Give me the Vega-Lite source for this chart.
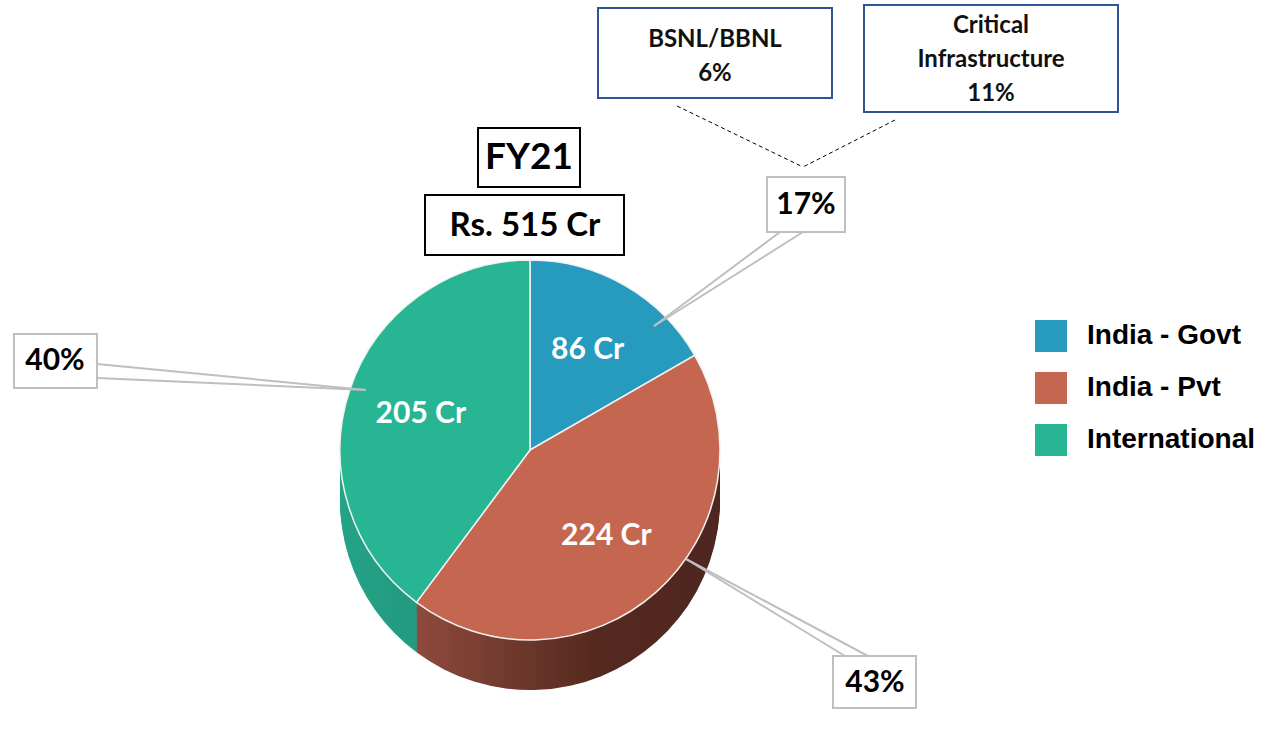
{
  "$schema": "https://vega.github.io/schema/vega-lite/v6.json",
  "width": 1060,
  "height": 564,
  "autosize": {"type": "none"},
  "padding": {"left": 0, "top": 168, "right": 211, "bottom": 0},
  "background": "white",
  "config": {"view": {"stroke": null}},
  "datasets": {
    "segments": [
      {"segment": "India - Govt", "value": 86, "crLabel": "86 Cr"},
      {"segment": "India - Pvt", "value": 224, "crLabel": "224 Cr"},
      {"segment": "International", "value": 205, "crLabel": "205 Cr"}
    ]
  },
  "layer": [
    {
      "data": {"name": "segments"},
      "encoding": {
        "theta": {"field": "value", "type": "quantitative", "stack": true},
        "fill": {
          "condition": [
            {"test": "datum.segment === 'India - Pvt'", "value": {"gradient": "linear", "x1": 0, "y1": 0, "x2": 1, "y2": 0, "stops": [{"offset": 0, "color": "#8E4A3D"}, {"offset": 0.6, "color": "#55291F"}, {"offset": 1, "color": "#4E2620"}]}},
            {"test": "datum.segment === 'International'", "value": {"gradient": "linear", "x1": 0, "y1": 0, "x2": 1, "y2": 0, "stops": [{"offset": 0, "color": "#24A387"}, {"offset": 1, "color": "#1F8D74"}]}}
          ],
          "value": "#1E7F9A"
        }
      },
      "layer": [
        {"mark": {"type": "arc", "radius": 190, "yOffset": 50}},
        {"mark": {"type": "arc", "radius": 190, "yOffset": 48}},
        {"mark": {"type": "arc", "radius": 190, "yOffset": 46}},
        {"mark": {"type": "arc", "radius": 190, "yOffset": 44}},
        {"mark": {"type": "arc", "radius": 190, "yOffset": 42}},
        {"mark": {"type": "arc", "radius": 190, "yOffset": 40}},
        {"mark": {"type": "arc", "radius": 190, "yOffset": 38}},
        {"mark": {"type": "arc", "radius": 190, "yOffset": 36}},
        {"mark": {"type": "arc", "radius": 190, "yOffset": 34}},
        {"mark": {"type": "arc", "radius": 190, "yOffset": 32}},
        {"mark": {"type": "arc", "radius": 190, "yOffset": 30}},
        {"mark": {"type": "arc", "radius": 190, "yOffset": 28}},
        {"mark": {"type": "arc", "radius": 190, "yOffset": 26}},
        {"mark": {"type": "arc", "radius": 190, "yOffset": 24}},
        {"mark": {"type": "arc", "radius": 190, "yOffset": 22}},
        {"mark": {"type": "arc", "radius": 190, "yOffset": 20}},
        {"mark": {"type": "arc", "radius": 190, "yOffset": 18}},
        {"mark": {"type": "arc", "radius": 190, "yOffset": 16}},
        {"mark": {"type": "arc", "radius": 190, "yOffset": 14}},
        {"mark": {"type": "arc", "radius": 190, "yOffset": 12}},
        {"mark": {"type": "arc", "radius": 190, "yOffset": 10}},
        {"mark": {"type": "arc", "radius": 190, "yOffset": 8}},
        {"mark": {"type": "arc", "radius": 190, "yOffset": 6}},
        {"mark": {"type": "arc", "radius": 190, "yOffset": 4}},
        {"mark": {"type": "arc", "radius": 190, "yOffset": 2}}
      ]
    },
    {
      "data": {"name": "segments"},
      "mark": {"type": "arc", "radius": 190, "stroke": "#F2F2F2", "strokeWidth": 1.5},
      "encoding": {
        "theta": {"field": "value", "type": "quantitative", "stack": true},
        "color": {
          "field": "segment",
          "type": "nominal",
          "scale": {"domain": ["India - Govt", "India - Pvt", "International"], "range": ["#269BBD", "#C56651", "#28B594"]},
          "legend": {
            "orient": "none",
            "legendX": 1035,
            "legendY": 152,
            "title": null,
            "symbolType": "square",
            "symbolSize": 1024,
            "symbolStrokeWidth": 0,
            "labelFont": "Liberation Sans",
            "labelFontSize": 28,
            "labelFontWeight": "bold",
            "labelColor": "#000000",
            "labelOffset": 20,
            "labelLimit": 400,
            "rowPadding": 20,
            "padding": 0
          }
        }
      }
    },
    {
      "data": {"name": "segments"},
      "mark": {"type": "text", "radius": 115, "font": "Lato", "fontSize": 30, "fontWeight": "bold", "fill": "white", "align": "center", "baseline": "middle"},
      "encoding": {
        "theta": {"field": "value", "type": "quantitative", "stack": true},
        "order": {"field": "segment", "type": "nominal", "sort": "ascending"},
        "text": {"field": "crLabel", "type": "nominal"}
      }
    },
    {
      "data": {"values": [
        {"xa": 780, "ya": 232, "xb": 654, "yb": 326},
        {"xa": 803, "ya": 232, "xb": 654, "yb": 326},
        {"xa": 97, "ya": 364, "xb": 366, "yb": 390},
        {"xa": 97, "ya": 378, "xb": 366, "yb": 390},
        {"xa": 845, "ya": 656, "xb": 686, "yb": 559},
        {"xa": 868, "ya": 656, "xb": 686, "yb": 559}
      ]},
      "mark": {"type": "rule", "stroke": "#BFBFBF", "strokeWidth": 2},
      "encoding": {
        "x": {"field": "xa", "type": "quantitative", "scale": {"domain": [0, 1060], "zero": false, "nice": false}, "axis": null},
        "y": {"field": "ya", "type": "quantitative", "scale": {"domain": [732, 168], "zero": false, "nice": false}, "axis": null},
        "x2": {"field": "xb"},
        "y2": {"field": "yb"}
      }
    },
    {
      "data": {"values": [
        {"xa": 677, "ya": 106, "xb": 803, "yb": 167},
        {"xa": 895, "ya": 120, "xb": 803, "yb": 167}
      ]},
      "mark": {"type": "rule", "stroke": "#000000", "strokeWidth": 1, "strokeDash": [4, 3]},
      "encoding": {
        "x": {"field": "xa", "type": "quantitative", "axis": null},
        "y": {"field": "ya", "type": "quantitative", "axis": null},
        "x2": {"field": "xb"},
        "y2": {"field": "yb"}
      }
    },
    {
      "data": {"values": [
        {"label": "17%", "left": 767, "right": 845, "top": 177, "bottom": 232},
        {"label": "40%", "left": 14, "right": 97, "top": 334, "bottom": 388},
        {"label": "43%", "left": 833, "right": 916, "top": 656, "bottom": 708}
      ]},
      "mark": {"type": "rect", "fill": "white", "stroke": "#BFBFBF", "strokeWidth": 2},
      "encoding": {
        "x": {"field": "left", "type": "quantitative", "axis": null},
        "x2": {"field": "right"},
        "y": {"field": "top", "type": "quantitative", "axis": null},
        "y2": {"field": "bottom"}
      }
    },
    {
      "data": {"values": [
        {"label": "FY21", "left": 478, "right": 580, "top": 128, "bottom": 187},
        {"label": "Rs. 515 Cr", "left": 425, "right": 624, "top": 195, "bottom": 255}
      ]},
      "mark": {"type": "rect", "fill": "white", "stroke": "#000000", "strokeWidth": 2},
      "encoding": {
        "x": {"field": "left", "type": "quantitative", "axis": null},
        "x2": {"field": "right"},
        "y": {"field": "top", "type": "quantitative", "axis": null},
        "y2": {"field": "bottom"}
      }
    },
    {
      "data": {"values": [
        {"label": "BSNL/BBNL", "left": 598, "right": 832, "top": 8, "bottom": 98},
        {"label": "Critical Infrastructure", "left": 864, "right": 1118, "top": 5, "bottom": 112}
      ]},
      "mark": {"type": "rect", "fill": "white", "stroke": "#2F5597", "strokeWidth": 2},
      "encoding": {
        "x": {"field": "left", "type": "quantitative", "axis": null},
        "x2": {"field": "right"},
        "y": {"field": "top", "type": "quantitative", "axis": null},
        "y2": {"field": "bottom"}
      }
    },
    {
      "data": {"values": [
        {"label": "17%", "cx": 806, "cy": 205},
        {"label": "40%", "cx": 55, "cy": 361},
        {"label": "43%", "cx": 875, "cy": 683}
      ]},
      "mark": {"type": "text", "font": "Lato", "fontSize": 30, "fontWeight": "bold", "fill": "#000000", "align": "center", "baseline": "middle"},
      "encoding": {
        "x": {"field": "cx", "type": "quantitative", "axis": null},
        "y": {"field": "cy", "type": "quantitative", "axis": null},
        "text": {"field": "label", "type": "nominal"}
      }
    },
    {
      "data": {"values": [
        {"label": "FY21", "cx": 529, "cy": 158}
      ]},
      "mark": {"type": "text", "font": "Lato", "fontSize": 37, "fontWeight": "bold", "fill": "#000000", "align": "center", "baseline": "middle"},
      "encoding": {
        "x": {"field": "cx", "type": "quantitative", "axis": null},
        "y": {"field": "cy", "type": "quantitative", "axis": null},
        "text": {"field": "label", "type": "nominal"}
      }
    },
    {
      "data": {"values": [
        {"label": "Rs. 515 Cr", "cx": 525, "cy": 226}
      ]},
      "mark": {"type": "text", "font": "Lato", "fontSize": 33, "fontWeight": "bold", "fill": "#000000", "align": "center", "baseline": "middle"},
      "encoding": {
        "x": {"field": "cx", "type": "quantitative", "axis": null},
        "y": {"field": "cy", "type": "quantitative", "axis": null},
        "text": {"field": "label", "type": "nominal"}
      }
    },
    {
      "data": {"values": [
        {"label": "BSNL/BBNL\n6%", "cx": 715, "cy": 40},
        {"label": "Critical\nInfrastructure\n11%", "cx": 991, "cy": 26}
      ]},
      "mark": {"type": "text", "font": "Lato", "fontSize": 24, "fontWeight": "bold", "fill": "#111111", "align": "center", "baseline": "middle", "lineBreak": "\n", "lineHeight": 34},
      "encoding": {
        "x": {"field": "cx", "type": "quantitative", "axis": null},
        "y": {"field": "cy", "type": "quantitative", "axis": null},
        "text": {"field": "label", "type": "nominal"}
      }
    }
  ]
}
